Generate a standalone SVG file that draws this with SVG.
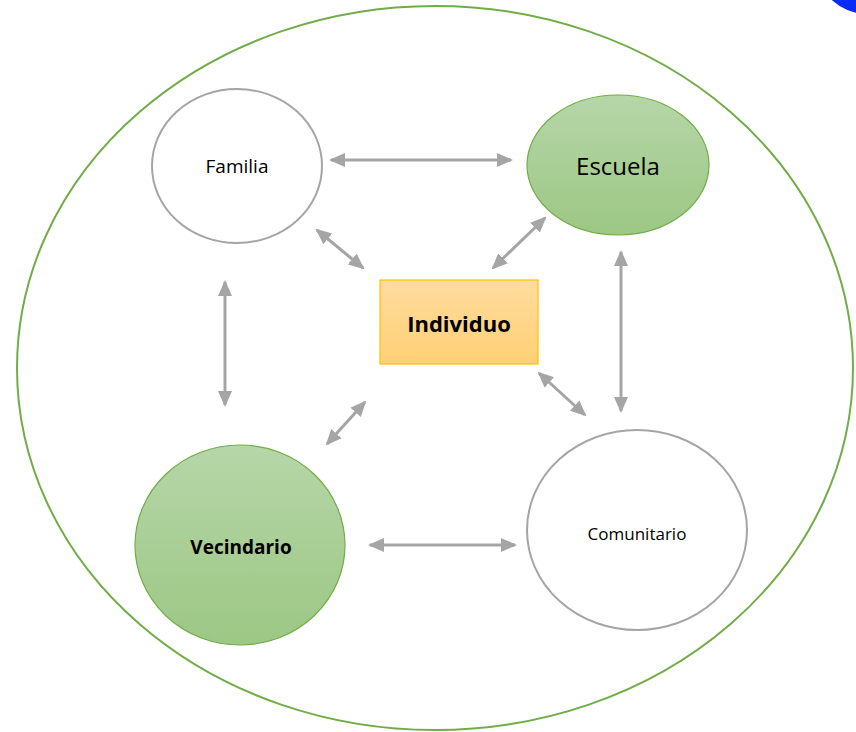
<svg xmlns="http://www.w3.org/2000/svg" width="856" height="732" viewBox="0 0 856 732">
<defs>
<linearGradient id="green" x1="0" y1="0" x2="0" y2="1">
<stop offset="0" stop-color="#B6D6A8"/>
<stop offset="1" stop-color="#9CC784"/>
</linearGradient>
<linearGradient id="orange" x1="0" y1="0" x2="0" y2="1">
<stop offset="0" stop-color="#FFDC9E"/>
<stop offset="1" stop-color="#FFD075"/>
</linearGradient>
<marker id="ah" markerUnits="userSpaceOnUse" markerWidth="16" markerHeight="16" viewBox="0 0 16 16" refX="14" refY="8" orient="auto-start-reverse">
<path d="M0,1 L16,8 L0,15 Z" fill="#A5A5A5"/>
</marker>
<style>
.conn line{stroke:#A5A5A5;stroke-width:3;marker-start:url(#ah);marker-end:url(#ah)}
.gray{fill:#FFFFFF;stroke:#A5A5A5;stroke-width:2}
.grn{fill:url(#green);stroke:#70AD47;stroke-width:1.2}
text{font-family:"Open Sans","Liberation Sans",sans-serif;fill:#000;text-anchor:middle}
</style>
</defs>
<rect width="856" height="732" fill="#FFFFFF"/>
<circle cx="868" cy="-40" r="54" fill="#0A2BF5"/>
<ellipse id="outer" cx="435" cy="368" rx="418" ry="362" fill="none" stroke="#70AD47" stroke-width="2"/>
<g id="familia"><ellipse class="gray" cx="237" cy="166" rx="85" ry="77"/><text x="237" y="173" font-size="19">Familia</text></g>
<g id="escuela"><ellipse class="grn" cx="618" cy="165" rx="91" ry="70"/><text x="618" y="175" font-size="24">Escuela</text></g>
<g id="individuo"><rect x="380" y="280" width="158" height="84" fill="url(#orange)" stroke="#FFC000" stroke-width="1.2"/><text x="459" y="332" font-size="22" font-weight="bold">Individuo</text></g>
<g id="vecindario"><ellipse class="grn" cx="240" cy="545" rx="105" ry="100"/><text x="241" y="554" font-size="19" font-weight="bold">Vecindario</text></g>
<g id="comunitario"><ellipse class="gray" cx="637" cy="530" rx="110" ry="100"/><text x="637" y="540" font-size="17">Comunitario</text></g>
<g id="connectors" class="conn">
<line x1="331" y1="160" x2="511" y2="160"/>
<line x1="317" y1="230" x2="363" y2="268"/>
<line x1="545" y1="218" x2="493" y2="268"/>
<line x1="225" y1="282" x2="225" y2="405"/>
<line x1="621" y1="252" x2="621" y2="411"/>
<line x1="539" y1="373" x2="585" y2="415"/>
<line x1="365" y1="402" x2="327" y2="444"/>
<line x1="370" y1="545" x2="515" y2="545"/>
</g>
</svg>
